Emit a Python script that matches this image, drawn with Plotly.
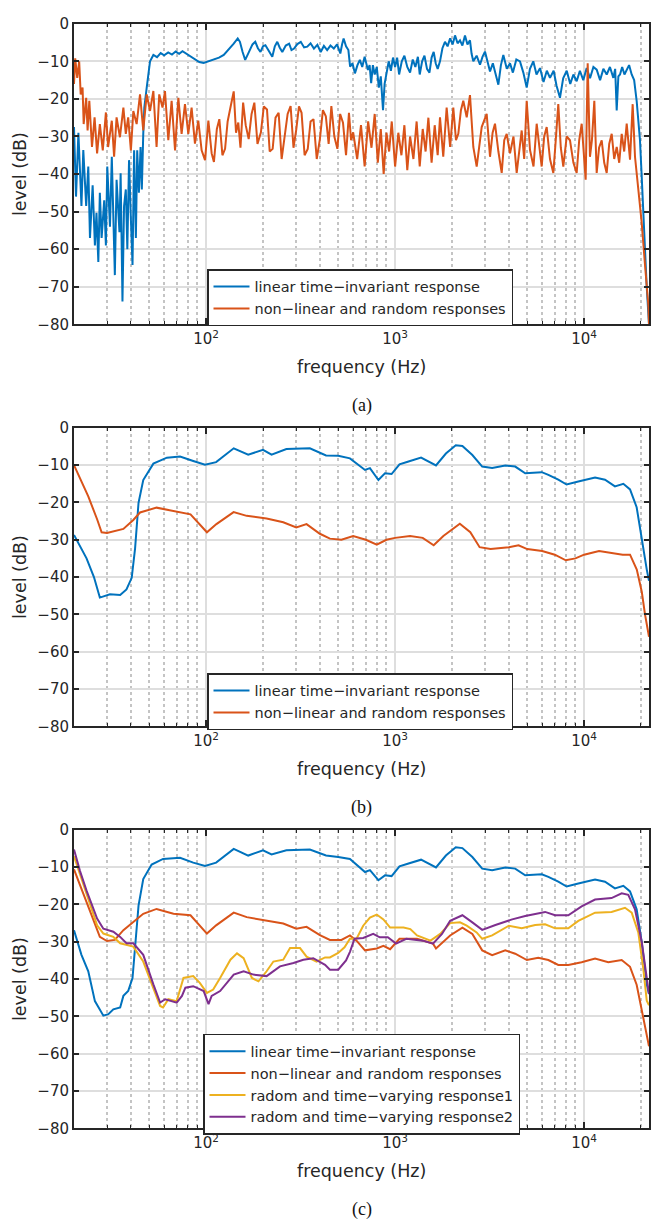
import math
import plotly.graph_objects as go

W, H = 657, 1230
BLUE, ORANGE, YELLOW, PURPLE = "#0072BD", "#D95319", "#EDB120", "#7E2F8E"
INK = "#262626"
FONT = "DejaVu Sans"

# ---------------- data (frequency Hz, level dB) ----------------
# (a) raw responses
A_LTI = [(20,-27.5),(20.5,-46),(21.1,-29),(21.9,-48.5),(22.4,-33.6),(23.2,-48.5),(23.8,-38),(24.3,-57),(25.1,-43),(25.8,-59),(26.3,-50.3),(26.9,-63.4),(27.4,-45),(28.0,-57),(28.9,-47),(29.5,-59),(30.0,-38),(31.0,-54),(31.7,-35.4),(32.9,-66.9),(33.6,-41.5),(34.8,-55.5),(35.3,-39.8),(36.1,-73.9),(36.8,-48.5),(37.6,-44.1),(38.3,-60),(39.1,-36.3),(40.0,-52),(40.8,-64.2),(41.6,-33.7),(42.5,-57),(43.2,-33.7),(44.1,-45),(45.0,-32.8),(45.7,-44.1),(46.5,-29.3),(47.1,-22.3),(48.5,-17),(50.5,-10),(52.6,-8.3),(55,-8.9),(57.5,-7.8),(60,-8.4),(63,-7.6),(66,-8.2),(69,-7.4),(72,-8.0),(75,-7.3),(78,-7.9),(81,-8.3),(84,-8.9),(88,-9.6),(92,-10.2),(97,-10.4),(103,-10.0),(110,-9.6),(117,-9.0),(124,-8.3),(132,-6.8),(140,-5.3),(147,-3.9),(151,-4.8),(156,-7.5),(161,-9.6),(166,-8.2),(171,-7.0),(176,-5.5),(182,-4.8),(188,-6.5),(194,-7.5),(200,-6.0),(206,-5.7),(215,-7.2),(224,-8.8),(231,-6.0),(238,-4.8),(245,-6.3),(253,-7.5),(264,-5.8),(275,-5.3),(283,-7.0),(292,-6.6),(304,-5.4),(317,-4.8),(330,-6.3),(343,-6.1),(357,-5.2),(372,-6.6),(388,-5.6),(404,-7.5),(420,-5.9),(437,-7.0),(455,-5.8),(474,-6.6),(493,-5.5),(513,-7.9),(524,-5.5),(534,-3.9),(550,-6.0),(566,-7.0),(578,-11.4),(595,-10.5),(613,-13.2),(632,-11.0),(651,-9.6),(670,-11.5),(690,-8.8),(705,-10.5),(718,-12.3),(733,-11.0),(747,-15.8),(763,-11.0),(780,-13.5),(800,-11.5),(820,-17),(840,-14),(863,-23),(880,-16),(900,-13.5),(925,-10),(950,-12.5),(975,-9.0),(1000,-11.5),(1025,-9.0),(1050,-13.5),(1085,-10),(1120,-8.5),(1160,-11.5),(1200,-13),(1240,-9.5),(1280,-11.5),(1320,-8.8),(1350,-13.5),(1390,-10),(1430,-8.5),(1475,-12),(1520,-13),(1560,-9),(1600,-7.5),(1640,-10.5),(1680,-12),(1728,-10),(1780,-6.5),(1836,-4.8),(1895,-6.0),(1955,-3.9),(2015,-5.5),(2075,-3.1),(2140,-5.2),(2205,-4.4),(2270,-5.8),(2343,-3.1),(2415,-5.5),(2490,-4.4),(2540,-8.0),(2593,-10),(2700,-8.5),(2813,-10.9),(2900,-8.8),(2989,-7.4),(3080,-10.0),(3178,-12.7),(3290,-10.5),(3400,-13.5),(3518,-16.2),(3630,-11.0),(3738,-8.3),(3900,-12.0),(4055,-10.5),(4200,-13.0),(4380,-9.5),(4579,-10.0),(4770,-13),(4969,-17),(5170,-12),(5385,-10),(5600,-13.5),(5844,-11.8),(6100,-15.5),(6350,-12.5),(6600,-14.4),(6900,-12.5),(7150,-16.5),(7453,-19.7),(7750,-14.5),(8092,-12.5),(8450,-16),(8780,-13.5),(9136,-15.3),(9500,-12.5),(9900,-15),(10319,-11.8),(10750,-14.5),(11200,-11.5),(11658,-12.2),(12150,-15.0),(12650,-12.0),(13170,-13.5),(13700,-11.5),(14279,-14.4),(14600,-12.0),(14876,-23.1),(15180,-14),(15489,-13.5),(15900,-11.5),(16350,-13.5),(16804,-12.2),(17300,-11.0),(17853,-13.5),(18400,-15.0),(18970,-20.5),(19350,-25),(19756,-31),(20150,-40),(20575,-48.5),(21000,-60),(21444,-70),(21800,-76),(22050,-80)]

A_NL = [(20,-16),(20.3,-9.2),(20.8,-14.4),(21.3,-10),(21.7,-18.8),(22.2,-17),(22.5,-26.7),(23.2,-19.7),(23.6,-28.4),(24.1,-20.5),(24.9,-32.8),(25.7,-24.9),(26.5,-34.5),(27.4,-26.7),(28.4,-33.7),(29.5,-23.6),(30.3,-32.8),(31.7,-25.8),(32.6,-35.4),(33.6,-24.9),(35.0,-30.2),(36.5,-22.3),(37.6,-29.3),(38.7,-24.9),(40.0,-33.7),(41.2,-23.2),(42.9,-26.7),(44.7,-18.8),(46.5,-28.4),(48.5,-18.8),(50.5,-23.2),(52.6,-17.9),(54.7,-32.8),(56.5,-18.8),(58.8,-22.3),(60.6,-17.9),(63.1,-31.0),(65.7,-20.5),(68.5,-33.7),(71.3,-19.7),(74.2,-29.3),(77.3,-21.4),(80.5,-29.3),(83.8,-22.3),(87.3,-31.9),(90.9,-25.8),(94.7,-33.7),(98.7,-36.3),(102.8,-25.8),(107,-34.5),(110,-36.8),(114,-28),(117.5,-25.4),(122,-35),(126,-33.3),(130,-26),(135,-21.9),(140,-18),(144,-29),(148,-26.3),(152,-33),(157,-21),(162,-27),(168,-30.7),(174,-24),(180,-21),(187,-32),(195,-28.9),(202,-22),(210,-22.8),(217,-34),(225,-33.3),(233,-25),(242,-23.7),(251,-36),(260,-30.7),(270,-24),(280,-21.9),(290,-33),(300,-28.1),(310,-22),(320,-23.7),(332,-35),(345,-33.3),(357,-26),(370,-25.4),(385,-36),(400,-30.7),(415,-23),(430,-24.6),(445,-32),(460,-21.9),(477,-30),(495,-33.3),(512,-24),(530,-26.3),(550,-35),(570,-23.7),(585,-31),(600,-28.9),(630,-36),(660,-27),(690,-38),(720,-26),(750,-33),(780,-24),(810,-37),(840,-28),(870,-40),(900,-29),(930,-34),(960,-26),(1000,-38),(1040,-29),(1080,-35),(1120,-27),(1160,-39),(1200,-30),(1250,-36),(1300,-26),(1350,-38),(1400,-28),(1450,-34),(1500,-25),(1560,-37),(1620,-27),(1680,-35),(1728,-24.9),(1798,-35.4),(1874,-22.3),(1955,-32.8),(2032,-22.3),(2100,-31),(2160,-29.3),(2230,-23),(2295,-20.5),(2393,-24.9),(2490,-19.0),(2593,-32.8),(2702,-38),(2872,-27.5),(3052,-24.0),(3178,-35.4),(3280,-29),(3377,-26.6),(3520,-34),(3665,-39.7),(3780,-31),(3895,-29.3),(4055,-34.5),(4230,-30),(4399,-39.7),(4540,-33),(4675,-28.4),(4820,-36),(4969,-20.5),(5174,-33.6),(5400,-38),(5612,-26.6),(5790,-33),(5965,-38),(6150,-30),(6340,-27.5),(6600,-36),(6874,-39.7),(7080,-31),(7302,-21.4),(7530,-33),(7763,-38),(8090,-30),(8421,-31),(8780,-37),(9136,-39.7),(9420,-31),(9711,-26.6),(10194,-41.5),(10446,-10.5),(10743,-35.4),(11000,-31),(11326,-20.5),(11658,-39.7),(12000,-33),(12392,-31),(12780,-37),(13170,-39.7),(13580,-32),(13997,-29.3),(14430,-36),(14876,-32.8),(15340,-37),(15812,-29.3),(16300,-34),(16804,-26.6),(17497,-36.2),(18073,-21.4),(18593,-35.4),(19347,-44.1),(20160,-52.8),(21003,-64.2),(21864,-74.7),(22050,-80)]

# (b) smoothed responses
B_LTI_F = [20,23.3,25.5,27.4,31,35.1,37.9,40.4,42.1,43.9,46.5,52.6,62,72.8,85.5,98.7,113,140,167,200,222,266,354,431,500,577,693,736,816,884,958,1055,1166,1372,1646,1857,2095,2270,2563,2890,3262,3830,4320,4880,5970,6470,7300,8080,9320,11430,12900,14560,16130,17500,18970,20190,21460,22050]
B_LTI_DB = [-28.7,-35,-40,-45.5,-44.6,-44.8,-43.3,-40.2,-32.3,-20.1,-14,-9.6,-8,-7.7,-8.9,-9.9,-9.2,-5.5,-7.2,-5.9,-7.2,-5.7,-5.5,-7.4,-7.5,-8.2,-11.3,-10.8,-14,-12.2,-12.4,-9.8,-9.1,-8.0,-10.1,-6.9,-4.7,-4.9,-7.3,-10.4,-10.8,-10.1,-10.4,-12.2,-11.9,-12.6,-13.9,-15.2,-14.4,-13.3,-13.9,-15.7,-15.0,-16.5,-21.3,-30.1,-38,-41]
B_NL_F = [20,21.5,23.8,26.5,28,29.9,33.6,36.5,41.2,44.7,54.7,67.2,82.7,101,113.4,139.8,164,209,256,300,340,400,452,520,600,700,800,900,1000,1200,1400,1600,1800,2200,2500,2800,3200,4000,4500,5000,6000,7000,8000,9000,10000,12000,14000,16000,17500,19000,20200,21000,22050]
B_NL_DB = [-10,-13.5,-18.4,-24.5,-28,-28.2,-27.5,-27.1,-24.7,-22.7,-21.4,-22.3,-23.2,-28,-25.8,-22.6,-23.6,-24.3,-25.3,-26.7,-25.8,-28.4,-29.7,-30,-29,-30,-31.3,-30,-29.5,-29,-29.5,-31.5,-29,-25.7,-28,-32,-32.5,-32,-31.5,-32.5,-33,-34,-35.5,-35,-34,-33,-33.5,-34,-34,-38,-44,-50,-56]

# (c) smoothed responses incl. time-varying ones
C_LTI_F = [20,21.9,23.8,25.8,28.6,30.4,32.3,35.1,36.5,38.7,40.8,42.1,43.9,46.5,51.5,59.2,72.8,85.5,98.7,113,140,167,200,222,266,354,431,500,577,693,736,816,884,958,1055,1166,1372,1646,1857,2095,2270,2563,2890,3262,3830,4320,4880,5970,6470,7300,8080,9320,11430,12900,14560,16130,17500,18970,20190,21460,22050]
C_LTI_DB = [-26.9,-33.5,-37.9,-45.9,-49.8,-49.4,-48.1,-47.6,-44.5,-43.2,-39.7,-31.7,-20.3,-13.2,-9.3,-7.8,-7.5,-8.8,-9.7,-8.8,-5.1,-6.9,-5.5,-6.6,-5.5,-5.3,-6.9,-7.3,-7.8,-11.3,-10.8,-13.5,-12.2,-12.4,-9.8,-9.1,-8.0,-10.1,-6.9,-4.7,-4.9,-7.3,-10.4,-10.8,-10.1,-10.4,-12.2,-11.9,-12.6,-13.9,-15.2,-14.4,-13.3,-13.9,-15.7,-15.0,-16.5,-21.3,-30.1,-41.5,-44]
C_NL_F = [20,22.4,24.8,27.4,29.9,32.9,36.5,41.2,46.5,54.7,67.2,82.7,101,113,140,164,209,256,300,340,400,452,520,577,625,693,800,867,941,1055,1306,1587,1646,1955,2270,2563,2890,3262,3830,4320,4980,5720,6470,7300,8250,9700,11430,13430,15810,17500,18970,20190,21000,22050]
C_NL_DB = [-10.6,-16.8,-22.9,-28.7,-29.8,-29.5,-26.9,-24.7,-22.5,-21.2,-22.5,-22.9,-27.8,-25.6,-22.2,-23.4,-24.3,-25.1,-26.5,-26.0,-28.2,-29.5,-29.5,-28.3,-29.7,-32.3,-31.8,-31.1,-32,-29.2,-29.2,-30.5,-31.8,-28.3,-26.2,-27.9,-32.3,-33.6,-32.3,-33.2,-34.9,-34.3,-34.9,-36.2,-36.2,-35.5,-34.5,-35.5,-34.9,-36.7,-41.5,-48.5,-52,-58]
C_TV1_F = [20,21.5,23.3,26.5,28.6,32.3,35.1,41.2,46.5,52.6,57.1,59.2,63.1,69.9,75.9,85.5,92.6,101,109,118.6,134.5,145.7,157.9,174.7,189.3,209,227,256,278,314,340,384,426,452,500,540,577,625,678,736,800,867,941,1109,1204,1306,1539,1733,1955,2205,2393,2700,2890,3262,4000,4680,5510,6220,7020,8250,9320,11430,13970,16460,17860,19350,20560,21460,22050]
C_TV1_DB = [-7.1,-11.9,-17.6,-25.6,-27.8,-28.7,-30.4,-31.3,-35.3,-42.3,-47.2,-47.6,-45.4,-45.9,-39.7,-39.2,-41,-43.7,-42.8,-39.7,-34.8,-33.1,-34.4,-39.7,-40.6,-37.9,-35.3,-34.8,-31.7,-31.7,-34,-35.3,-34.2,-34.2,-33,-31.5,-29.2,-29.2,-25.7,-23.5,-22.7,-24,-26.2,-26.2,-26.6,-28.3,-29.7,-27.9,-25.0,-24.8,-25.7,-27.5,-29.2,-28.3,-25.7,-26.4,-25.5,-25.3,-26.4,-26.4,-24.4,-22.2,-22.0,-20.9,-22.2,-27.5,-37.1,-45.8,-47]
C_TV2_F = [20,21.5,23.3,26.5,28.6,32.3,35.1,37.9,41.2,46.5,52.6,57.1,60.8,69.9,74.5,77.7,85.5,97.1,103,107,118.6,140,158,178,209,246,290,327,369,426,452,500,550,577,610,678,766,829,915,1012,1146,1401,1587,1770,1955,2270,2563,2890,3395,4165,4880,6220,7020,8250,9700,11430,13970,15810,17130,18590,20190,21700,22050]
C_TV2_DB = [-5.3,-11,-16.3,-23.8,-26.5,-27.3,-28.7,-30.4,-30.4,-33.5,-41.4,-46.3,-45.4,-46.3,-44.5,-42.3,-41.9,-43.2,-46.7,-44.5,-43.2,-38.8,-37.9,-38.8,-39.2,-36.6,-35.7,-34.8,-34.4,-36.2,-37.5,-37.5,-35,-32.7,-29.2,-29,-27.9,-28.8,-28.8,-30.5,-29.2,-29.7,-30.5,-27.9,-24.4,-22.9,-24.8,-26.8,-25.5,-24.0,-23.1,-22.0,-22.9,-22.9,-20.5,-18.7,-18.3,-17.0,-17.4,-21.3,-30.1,-42.3,-44]

NAMES = ["linear time\u2212invariant response",
         "non\u2212linear and random responses",
         "radom and time\u2212varying response1",
         "radom and time\u2212varying response2"]
MAJOR_X = [100, 1000, 10000]
MAJOR_X_TEXT = ["10<sup>2</sup>", "10<sup>3</sup>", "10<sup>4</sup>"]
MINOR_X = [20, 30, 40, 50, 60, 70, 80, 90, 200, 300, 400, 500, 600, 700, 800, 900,
           2000, 3000, 4000, 5000, 6000, 7000, 8000, 9000, 20000]
CAPTIONS = ["(a)", "(b)", "(c)"]

# ---------------- layout geometry (pixels) ----------------
PLOT_X0, PLOT_X1 = 74, 649
PANELS = [(15, 320), (425, 728), (833, 1136)]   # top, bottom of each axes box
LEGEND_POS = [(207, 264), (207, 674), (203, 1040)]

def px_x(p):
    return p / W

def px_y(p):
    return 1 - p / H

fig = go.Figure()

def add(f, db, color, name, idx, legend):
    sfx = "" if idx == 1 else str(idx)
    fig.add_trace(go.Scatter(x=f, y=db, mode="lines", name=name,
                             line=dict(color=color, width=2),
                             xaxis="x" + sfx, yaxis="y" + sfx, legend=legend))

af, adb = zip(*A_LTI)
nf, ndb = zip(*A_NL)
add(list(af), list(adb), BLUE, NAMES[0], 1, "legend")
add(list(nf), list(ndb), ORANGE, NAMES[1], 1, "legend")
add(B_LTI_F, B_LTI_DB, BLUE, NAMES[0], 2, "legend2")
add(B_NL_F, B_NL_DB, ORANGE, NAMES[1], 2, "legend2")
add(C_LTI_F, C_LTI_DB, BLUE, NAMES[0], 3, "legend3")
add(C_NL_F, C_NL_DB, ORANGE, NAMES[1], 3, "legend3")
add(C_TV1_F, C_TV1_DB, YELLOW, NAMES[2], 3, "legend3")
add(C_TV2_F, C_TV2_DB, PURPLE, NAMES[3], 3, "legend3")

tickfont = dict(family=FONT, size=15, color=INK)
layout = dict(width=W, height=H, margin=dict(l=0, r=0, t=0, b=0),
              paper_bgcolor="white", plot_bgcolor="white", showlegend=True)

annotations = []
for i, (top, bot) in enumerate(PANELS):
    sfx = "" if i == 0 else str(i + 1)
    xa = dict(type="log", range=[math.log10(20), math.log10(22050)],
              domain=[px_x(PLOT_X0), px_x(PLOT_X1)], anchor="y" + sfx,
              tickmode="array", tickvals=MAJOR_X, ticktext=MAJOR_X_TEXT,
              ticks="inside", ticklen=6, tickwidth=1.5, tickcolor=INK,
              showline=True, linecolor=INK, linewidth=2, mirror="allticks",
              showgrid=True, gridcolor="#dedede", gridwidth=1.5, zeroline=False,
              tickfont=tickfont, fixedrange=True,
              minor=dict(tickmode="array", tickvals=MINOR_X, ticks="inside", ticklen=3,
                         tickwidth=1.2, tickcolor=INK, showgrid=True,
                         gridcolor="#c4c4c4", griddash="dot", gridwidth=1.5))
    ya = dict(range=[-80, 0], domain=[px_y(bot), px_y(top)], anchor="x" + sfx,
              tickmode="linear", tick0=0, dtick=10,
              ticks="inside", ticklen=5, tickwidth=1.5, tickcolor=INK,
              showline=True, linecolor=INK, linewidth=2, mirror="allticks",
              showgrid=True, gridcolor="#dedede", gridwidth=1.5, zeroline=False,
              tickfont=tickfont, fixedrange=True)
    layout["xaxis" + sfx] = xa
    layout["yaxis" + sfx] = ya
    lx, ly = LEGEND_POS[i]
    layout["legend" if i == 0 else "legend" + str(i + 1)] = dict(
        x=px_x(lx), y=px_y(ly), xanchor="left", yanchor="top",
        bgcolor="white", bordercolor=INK, borderwidth=1.5,
        font=dict(family=FONT, size=14.5, color=INK), itemwidth=36,
        tracegroupgap=0)
    annotations.append(dict(text="frequency (Hz)", xref="paper", yref="paper",
                            x=px_x((PLOT_X0 + PLOT_X1) / 2), y=px_y(bot + 43),
                            xanchor="center", yanchor="middle", showarrow=False,
                            font=dict(family=FONT, size=17.5, color=INK)))
    annotations.append(dict(text="level (dB)", xref="paper", yref="paper",
                            x=px_x(20), y=px_y((top + bot) / 2), textangle=-90,
                            xanchor="center", yanchor="middle", showarrow=False,
                            font=dict(family=FONT, size=17.5, color=INK)))
    annotations.append(dict(text=CAPTIONS[i], xref="paper", yref="paper",
                            x=px_x((PLOT_X0 + PLOT_X1) / 2), y=px_y(bot + 82),
                            xanchor="center", yanchor="middle", showarrow=False,
                            font=dict(family="Liberation Serif", size=18, color="#111111")))

layout["annotations"] = annotations
fig.update_layout(**layout)
fig.write_html("out.html")
